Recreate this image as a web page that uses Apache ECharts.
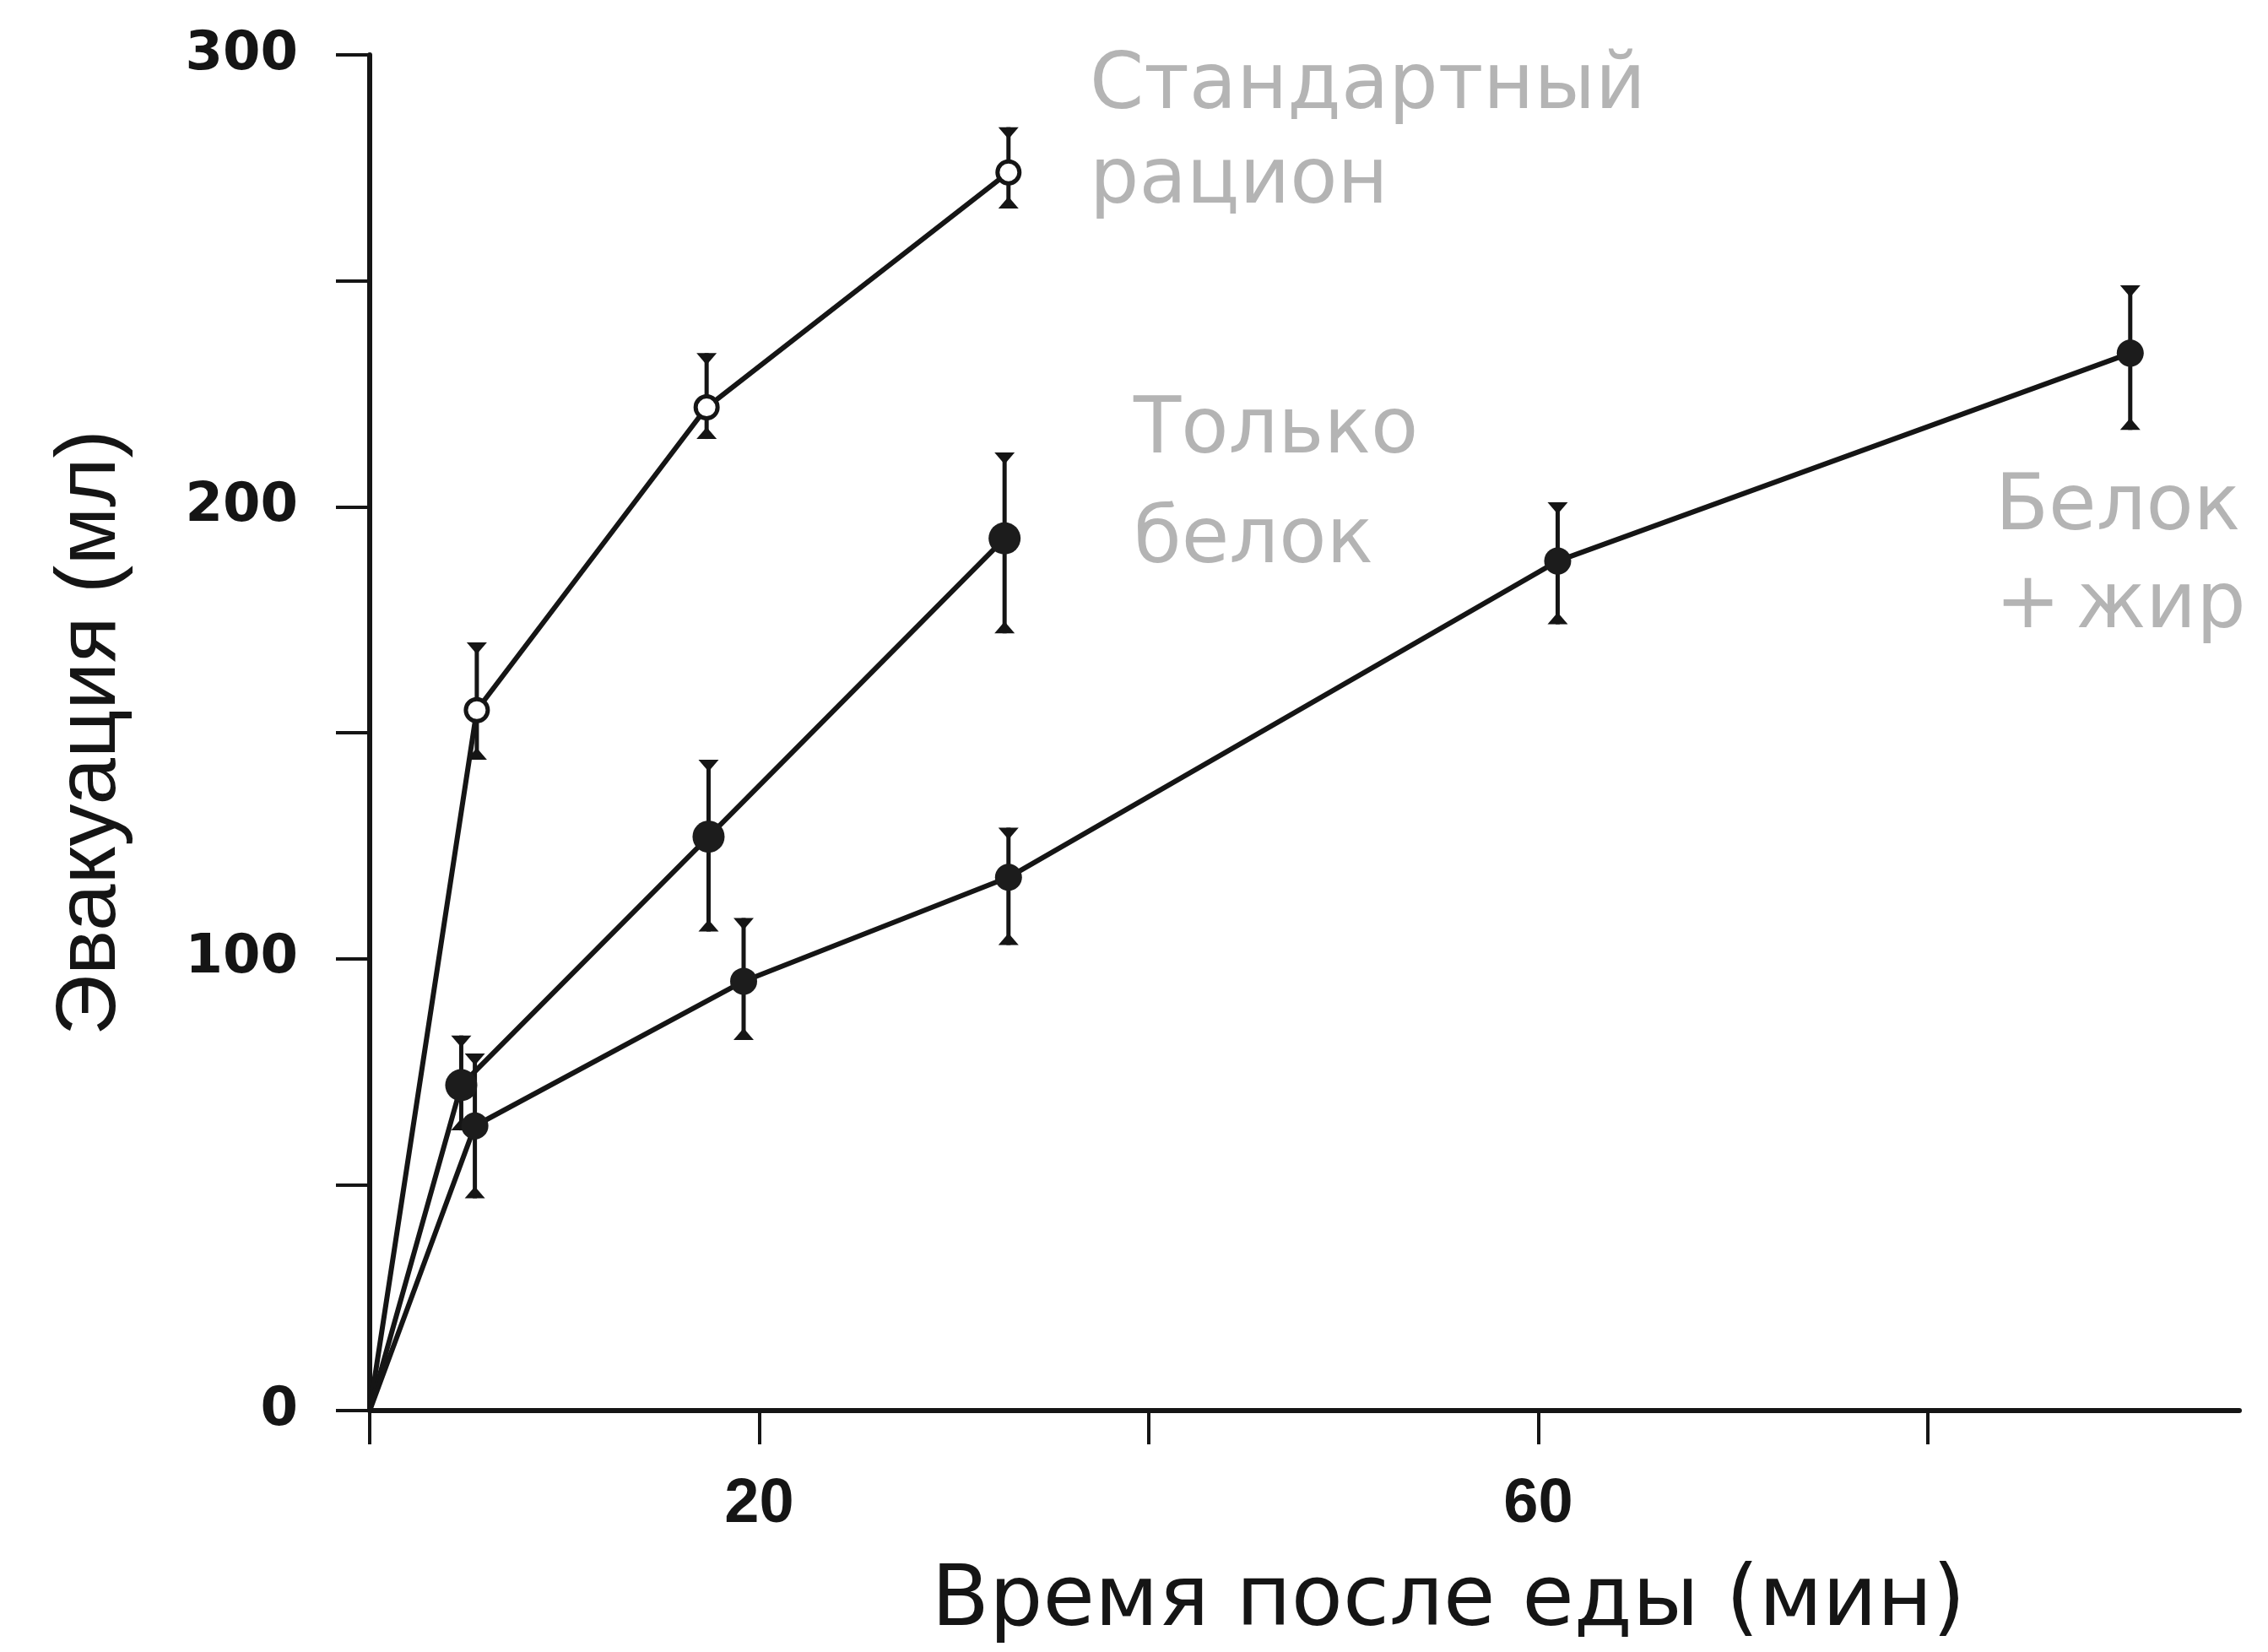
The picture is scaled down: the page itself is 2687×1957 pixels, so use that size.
<!DOCTYPE html>
<html>
<head>
<meta charset="utf-8">
<script src="https://cdn.jsdelivr.net/npm/echarts@6.0.0/dist/echarts.min.js"></script>
<style>
  html, body { margin: 0; padding: 0; background: #fff; }
  #chart { width: 2687px; height: 1957px; }
</style>
</head>
<body>
<div id="chart"></div>
<script>
// стандартный рацион (open markers)
var stdTime = [0, 5.5, 17.3, 32.8];
var stdMean = [0, 155, 222, 274];
var stdLow = [0, 144, 215, 266];
var stdHigh = [0, 170, 234, 284];

// только белок
var protTime = [0, 4.7, 17.4, 32.6];
var protMean = [0, 72, 127, 193];
var protLow = [0, 62, 106, 172];
var protHigh = [0, 83, 144, 212];

// белок + жир
var fatTime = [0, 5.4, 19.2, 32.8, 61.0, 90.4];
var fatMean = [0, 63, 95, 118, 188, 234];
var fatLow = [0, 47, 82, 103, 174, 217];
var fatHigh = [0, 79, 109, 129, 201, 249];

var xTicks = [0, 20, 40, 60, 80];
var xTickLabels = [20, 60];
var yTicks = [0, 50, 100, 150, 200, 250, 300];
var yTickLabels = [0, 100, 200, 300];

var INK = "#151515";
var GRAY = "#b4b4b4";

var chart = echarts.init(document.getElementById("chart"));

function lineData(t, v) {
  return t.map(function (x, i) {
    // the origin point has no marker
    if (i === 0) return { value: [x, v[i]], symbol: "none" };
    return [x, v[i]];
  });
}

function errData(t, lo, hi) {
  return t.map(function (x, i) {
    return [x, lo[i], hi[i]];
  }).slice(1);
}

function renderErr(params, api) {
  var x = api.value(0);
  var top = api.coord([x, api.value(2)]);
  var bot = api.coord([x, api.value(1)]);
  var w = 12, h = 14;
  return {
    type: "group",
    children: [
      { type: "line", shape: { x1: top[0], y1: top[1], x2: bot[0], y2: bot[1] }, style: { stroke: INK, lineWidth: 5 } },
      { type: "polygon", shape: { points: [[top[0] - w, top[1]], [top[0] + w, top[1]], [top[0], top[1] + h]] }, style: { fill: INK } },
      { type: "polygon", shape: { points: [[bot[0] - w, bot[1]], [bot[0] + w, bot[1]], [bot[0], bot[1] - h]] }, style: { fill: INK } }
    ]
  };
}

function errSeries(t, lo, hi) {
  return {
    type: "custom",
    renderItem: renderErr,
    data: errData(t, lo, hi),
    encode: { x: 0, y: [1, 2] },
    z: 1,
    silent: true
  };
}

var option = {
  animation: false,
  backgroundColor: "#fff",
  grid: { left: 438, right: 34, top: 65, bottom: 286 },
  xAxis: {
    type: "value",
    min: 0,
    max: 96,
    interval: 20,
    name: "Время после еды (мин)",
    nameLocation: "middle",
    nameGap: 178,
    nameTextStyle: { fontSize: 100, fontFamily: "DejaVu Sans", color: INK, padding: [0, 0, 0, 341] },
    axisLine: { show: true, onZero: false, lineStyle: { color: INK, width: 6 } },
    axisTick: { show: true, length: 40, customValues: xTicks, lineStyle: { color: INK, width: 4 } },
    axisLabel: {
      margin: 75,
      customValues: xTickLabels,
      fontSize: 74,
      fontWeight: "bold",
      fontFamily: "Liberation Sans",
      color: INK
    },
    splitLine: { show: false }
  },
  yAxis: {
    type: "value",
    min: 0,
    max: 300,
    interval: 50,
    name: "Эвакуация (мл)",
    nameLocation: "middle",
    nameGap: 280,
    nameRotate: 90,
    nameTextStyle: { fontSize: 100, fontFamily: "Liberation Sans", color: INK },
    axisLine: { show: true, lineStyle: { color: INK, width: 6 } },
    axisTick: { show: true, length: 40, customValues: yTicks, lineStyle: { color: INK, width: 4 } },
    axisLabel: {
      margin: 85,
      customValues: yTickLabels,
      fontSize: 64,
      fontWeight: "bold",
      fontFamily: "DejaVu Sans",
      color: INK
    },
    splitLine: { show: false }
  },
  graphic: [
    { type: "text", left: 1291, top: 48, style: { text: "Стандартный\nрацион", font: '92px "DejaVu Sans"', fill: GRAY, lineHeight: 112 } },
    { type: "text", left: 1343, top: 447, style: { text: "Только\nбелок", font: '92px "DejaVu Sans"', fill: GRAY, lineHeight: 130, align: "center" } },
    { type: "text", left: 2364, top: 545, style: { text: "Белок\n+\u2009жир", font: '92px "DejaVu Sans"', fill: GRAY, lineHeight: 116, align: "center" } }
  ],
  series: [
    errSeries(stdTime, stdLow, stdHigh),
    errSeries(protTime, protLow, protHigh),
    errSeries(fatTime, fatLow, fatHigh),
    {
      name: "Стандартный рацион",
      type: "line",
      data: lineData(stdTime, stdMean),
      symbol: "circle",
      symbolSize: 26,
      lineStyle: { color: INK, width: 6 },
      itemStyle: { color: "#fff", borderColor: INK, borderWidth: 5 },
      z: 3
    },
    {
      name: "Только белок",
      type: "line",
      data: lineData(protTime, protMean),
      symbol: "circle",
      symbolSize: 38,
      lineStyle: { color: INK, width: 6 },
      itemStyle: { color: "#1c1c1c" },
      z: 3
    },
    {
      name: "Белок + жир",
      type: "line",
      data: lineData(fatTime, fatMean),
      symbol: "circle",
      symbolSize: 32,
      lineStyle: { color: INK, width: 6 },
      itemStyle: { color: "#1c1c1c" },
      z: 3
    }
  ]
};

chart.setOption(option);
</script>
</body>
</html>
